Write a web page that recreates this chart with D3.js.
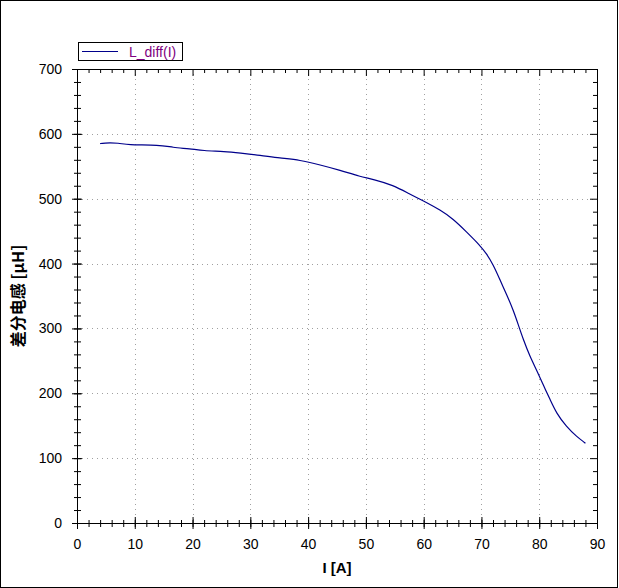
<!DOCTYPE html>
<html>
<head>
<meta charset="utf-8">
<script src="https://cdn.jsdelivr.net/npm/d3@7"></script>
<style>
  body { margin: 0; background: #fff; }
  svg { display: block; }
  text { font-family: "Liberation Sans", Arial, sans-serif; }
</style>
</head>
<body>
<div id="chart"></div>
<script>
// data
const current = [4.0, 4.5, 7.4, 8.5, 14.4, 16.5, 19.6, 21.8, 25.6, 28.2, 31.7, 35.1, 38.6, 42.1, 45.5,
  49.0, 51.3, 54.7, 57.6, 59.4, 60.5, 62.8, 65.1, 67.4, 69.7, 70.9, 72.05, 73.2, 74.4, 75.5,
  76.4, 77.2, 78.4, 79.6, 80.7, 81.9, 83.0, 84.7, 86.5, 88.0];
const inductance = [585, 586, 586, 583, 583, 579, 577, 574, 573, 570.5, 567, 562.7, 559.7, 552, 544,
  534, 530, 521, 507, 499, 494, 483, 469, 449, 428.6, 415, 398, 375, 351.5, 328.4,
  305, 284, 256.4, 235, 212.8, 190, 169, 148.5, 133, 123];
const xTicks = [0, 10, 20, 30, 40, 50, 60, 70, 80, 90];
const yTicks = [0, 100, 200, 300, 400, 500, 600, 700];
const seriesName = 'L_diff(I)';

const width = 619, height = 588;
const plotL = 77, plotR = 597, plotT = 69, plotB = 523;

const x = d3.scaleLinear().domain([0, 90]).range([plotL, plotR]);
const y = d3.scaleLinear().domain([0, 700]).range([plotB, plotT]);

const svg = d3.select('#chart').append('svg')
  .attr('width', width).attr('height', height);

svg.append('rect')
  .attr('x', 0.5).attr('y', 0.5)
  .attr('width', width - 2).attr('height', height - 1)
  .attr('fill', '#fff').attr('stroke', '#000');

// grid
svg.append('g').selectAll('line').data(xTicks.slice(1, -1)).enter().append('line')
  .attr('x1', d => Math.round(x(d)) + 0.5).attr('x2', d => Math.round(x(d)) + 0.5)
  .attr('y1', plotT).attr('y2', plotB)
  .attr('stroke', '#a0a0a0').attr('stroke-dasharray', '1,4');
svg.append('g').selectAll('line').data(yTicks.slice(1, -1)).enter().append('line')
  .attr('y1', d => Math.round(y(d)) + 0.5).attr('y2', d => Math.round(y(d)) + 0.5)
  .attr('x1', plotL).attr('x2', plotR)
  .attr('stroke', '#a0a0a0').attr('stroke-dasharray', '1,4');

// axes
const minorX = d3.range(0, 91, 2);
const minorY = d3.range(0, 701, 20);

svg.append('g').attr('transform', `translate(0,${plotB})`)
  .call(d3.axisBottom(x).tickValues(minorX).tickSize(4).tickFormat(''))
  .call(g => g.selectAll('.tick line').attr('y1', -3))
  .call(g => g.select('.domain').remove());
svg.append('g').attr('transform', `translate(0,${plotB})`)
  .call(d3.axisBottom(x).tickValues(xTicks).tickSize(6).tickSizeOuter(0).tickPadding(10))
  .call(g => g.selectAll('.tick line').attr('y1', -6))
  .call(g => g.selectAll('text').attr('font-size', 14).attr('fill', '#000')
    .attr('font-family', '"Liberation Sans", Arial, sans-serif'))
  .call(g => g.select('.domain').attr('d', `M${plotL - 5},0.5H${plotR}`));

svg.append('g').attr('transform', `translate(${plotL},0)`)
  .call(d3.axisLeft(y).tickValues(minorY).tickSize(3).tickFormat(''))
  .call(g => g.selectAll('.tick line').attr('x1', 4))
  .call(g => g.select('.domain').remove());
svg.append('g').attr('transform', `translate(${plotL},0)`)
  .call(d3.axisLeft(y).tickValues(yTicks).tickSize(5).tickSizeOuter(0).tickPadding(10))
  .call(g => g.selectAll('.tick line').attr('x1', 5))
  .call(g => g.selectAll('text').attr('font-size', 14).attr('fill', '#000')
    .attr('font-family', '"Liberation Sans", Arial, sans-serif'))
  .call(g => g.select('.domain').attr('d', `M0.5,${plotT}V${plotB + 5}`));

// top and right axes, ticks inward
svg.append('g').attr('transform', `translate(0,${plotT})`)
  .call(d3.axisTop(x).tickValues(minorX).tickSize(-4).tickFormat(''))
  .call(g => g.selectAll('.tick').filter(d => d % 10 === 0).select('line').attr('y2', 7))
  .call(g => g.select('.domain').attr('d', `M${plotL},0.5H${plotR}`));
svg.append('g').attr('transform', `translate(${plotR},0)`)
  .call(d3.axisRight(y).tickValues(minorY).tickSize(-4).tickFormat(''))
  .call(g => g.selectAll('.tick').filter(d => d % 100 === 0).select('line').attr('x2', -7))
  .call(g => g.select('.domain').attr('d', `M0.5,${plotT}V${plotB}`));

// curve
const pts = current.map((c, i) => [c, inductance[i]]);
svg.append('path')
  .datum(pts)
  .attr('fill', 'none')
  .attr('stroke', '#00008b')
  .attr('stroke-width', 1.2)
  .attr('d', d3.line().x(d => x(d[0])).y(d => y(d[1])).curve(d3.curveBasis));

// axis titles
svg.append('text')
  .attr('x', (plotL + plotR) / 2).attr('y', 573)
  .attr('text-anchor', 'middle')
  .attr('font-size', 15).attr('font-weight', 'bold')
  .text('I [A]');
svg.append('text')
  .attr('transform', `translate(24,${(plotT + plotB) / 2}) rotate(-90)`)
  .attr('text-anchor', 'middle')
  .attr('font-size', 16).attr('font-weight', 'bold')
  .style('font-family', '"Noto Sans CJK SC", "Liberation Sans", sans-serif')
  .text('差分电感 [μH]');

// legend
const legend = svg.append('g');
legend.append('rect')
  .attr('x', 78.5).attr('y', 42.5).attr('width', 104).attr('height', 18)
  .attr('fill', '#fff').attr('stroke', '#000');
legend.append('line')
  .attr('x1', 82).attr('x2', 118).attr('y1', 51.5).attr('y2', 51.5)
  .attr('stroke', '#00008b').attr('stroke-width', 1.2);
legend.append('text')
  .attr('x', 129).attr('y', 57)
  .attr('font-size', 14).attr('fill', '#800080')
  .text(seriesName);
</script>
</body>
</html>
